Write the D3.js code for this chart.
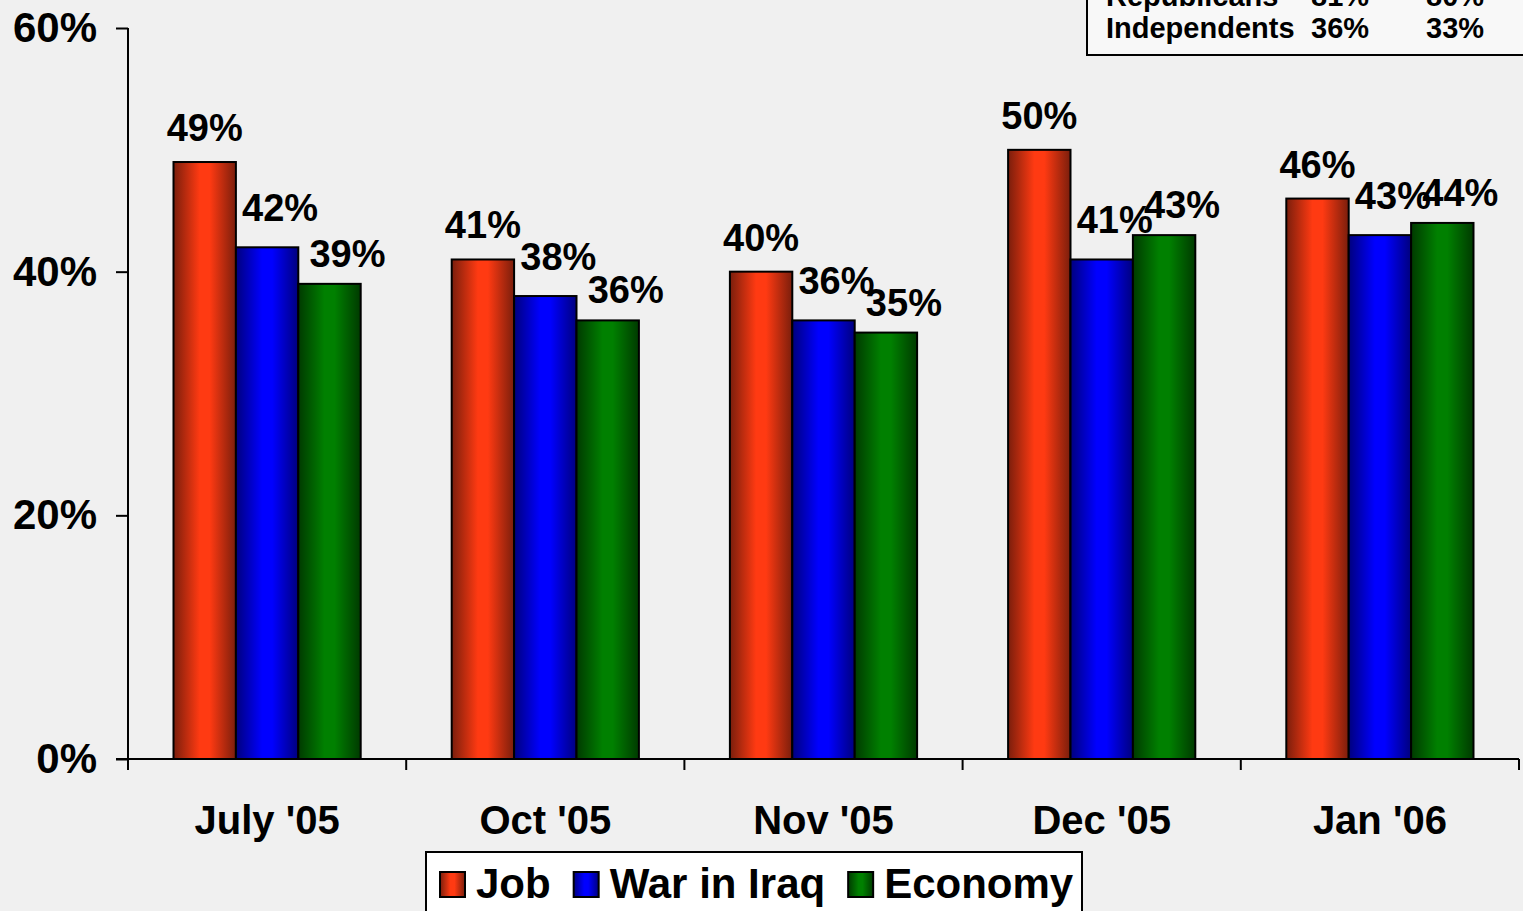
<!DOCTYPE html>
<html>
<head>
<meta charset="utf-8">
<script src="https://cdn.jsdelivr.net/npm/d3@7"></script>
<style>
	html, body { margin: 0; padding: 0; background: #f0f0f0; }
	svg { display: block; font-family: "Liberation Sans", Arial, sans-serif; font-weight: bold; }
</style>
</head>
<body>
<svg id="chart"></svg>
<script>
// chart data
const categories = ["July '05", "Oct '05", "Nov '05", "Dec '05", "Jan '06"];
const seriesNames = ["Job", "War in Iraq", "Economy"];
const jobValues = [49, 41, 40, 50, 46];
const iraqValues = [42, 38, 36, 41, 43];
const economyValues = [39, 36, 35, 43, 44];
const yTicks = [0, 20, 40, 60];

// partly visible inset table (top right)
const insetRows = ["Republicans", "Independents"];
const insetCol1 = ["81%", "36%"];
const insetCol2 = ["80%", "33%"];

const w = 1523;
const h = 911;
const svg = d3.select("#chart").attr("width", w).attr("height", h);

// colours: [edge, centre]
const colors = [
	["#7a1e0c", "#ff3a12"],
	["#00007e", "#0000ff"],
	["#003a00", "#008000"],
];
// label nudges per series (Excel-like placement)
const labelDx = [0, 13, 18];
const labelDy = [21, 26, 17];

const defs = svg.append("defs");
colors.forEach((c, i) => {
	const g = defs.append("linearGradient").attr("id", "grad" + i)
		.attr("x1", "0%").attr("x2", "100%").attr("y1", "0%").attr("y2", "0%");
	g.append("stop").attr("offset", "0%").attr("stop-color", c[0]);
	g.append("stop").attr("offset", "42%").attr("stop-color", c[1]);
	g.append("stop").attr("offset", "58%").attr("stop-color", c[1]);
	g.append("stop").attr("offset", "100%").attr("stop-color", c[0]);
});

const plotLeft = 128, plotRight = 1519, plotTop = 28, plotBottom = 759;

const xScale = d3.scaleBand().domain(categories).range([plotLeft, plotRight]).padding(0);
const yScale = d3.scaleLinear().domain([0, 60]).range([plotBottom, plotTop]);
const barW = 62.4;

const series = [jobValues, iraqValues, economyValues];

// bars
series.forEach((vals, s) => {
	svg.append("g").selectAll("rect")
		.data(vals)
		.enter()
		.append("rect")
		.attr("x", (d, i) => xScale(categories[i]) + xScale.bandwidth() / 2 + (s - 1.5) * barW)
		.attr("y", (d) => yScale(d))
		.attr("width", barW)
		.attr("height", (d) => plotBottom - yScale(d))
		.attr("fill", "url(#grad" + s + ")")
		.attr("stroke", "#000")
		.attr("stroke-width", 2);
});

// value labels
series.forEach((vals, s) => {
	svg.append("g").selectAll("text")
		.data(vals)
		.enter()
		.append("text")
		.attr("x", (d, i) => xScale(categories[i]) + xScale.bandwidth() / 2 + (s - 1) * barW + labelDx[s])
		.attr("y", (d) => yScale(d) - labelDy[s])
		.attr("text-anchor", "middle")
		.attr("font-size", 38)
		.attr("fill", "#000")
		.text((d) => d + "%");
});

// y axis
const yAxis = d3.axisLeft(yScale).tickValues(yTicks).tickSize(12).tickPadding(19)
	.tickFormat((d) => d + "%");
const yg = svg.append("g").attr("transform", "translate(" + plotLeft + ",0)").call(yAxis);
yg.select(".domain").attr("stroke", "#000").attr("stroke-width", 2).attr("d", "M0," + plotTop + "V" + plotBottom);
yg.selectAll(".tick line").attr("stroke", "#000").attr("stroke-width", 2);
yg.selectAll(".tick text").attr("font-size", 42).attr("font-family", "Liberation Sans, Arial")
	.attr("font-weight", "bold").attr("fill", "#000");

// x axis
const xg = svg.append("g").attr("transform", "translate(0," + plotBottom + ")");
xg.append("line").attr("x1", plotLeft - 12).attr("x2", plotRight).attr("stroke", "#000").attr("stroke-width", 2);
const bounds = categories.map((c) => xScale(c)).concat([plotRight]);
xg.selectAll("line.tk").data(bounds).enter().append("line").attr("class", "tk")
	.attr("x1", (d) => d).attr("x2", (d) => d).attr("y1", 0).attr("y2", 11)
	.attr("stroke", "#000").attr("stroke-width", 2);
xg.selectAll("text").data(categories).enter().append("text")
	.attr("x", (d) => xScale(d) + xScale.bandwidth() / 2)
	.attr("y", 75)
	.attr("text-anchor", "middle")
	.attr("font-size", 40)
	.text((d) => d);

// legend
const lg = svg.append("g");
lg.append("rect").attr("x", 426).attr("y", 852).attr("width", 656).attr("height", 80)
	.attr("fill", "#fff").attr("stroke", "#000").attr("stroke-width", 2);
let lx = 440;
seriesNames.forEach((name, s) => {
	lg.append("rect").attr("x", lx).attr("y", 872).attr("width", 25).attr("height", 25)
		.attr("fill", "url(#grad" + s + ")").attr("stroke", "#000").attr("stroke-width", 2);
	const t = lg.append("text").attr("x", lx + 36).attr("y", 898).attr("font-size", 42).text(name);
	lx += 36 + t.node().getComputedTextLength() + 23;
});

// inset table, cut by the top edge
const ig = svg.append("g");
ig.append("rect").attr("x", 1087).attr("y", -20).attr("width", 460).attr("height", 75)
	.attr("fill", "#f8f8f8").attr("stroke", "#000").attr("stroke-width", 2);
insetRows.forEach((r, i) => {
	const y = 6 + i * 32;
	ig.append("text").attr("x", 1106).attr("y", y).attr("font-size", 29).text(r);
	ig.append("text").attr("x", 1311).attr("y", y).attr("font-size", 29).text(insetCol1[i]);
	ig.append("text").attr("x", 1426).attr("y", y).attr("font-size", 29).text(insetCol2[i]);
});
</script>
</body>
</html>
